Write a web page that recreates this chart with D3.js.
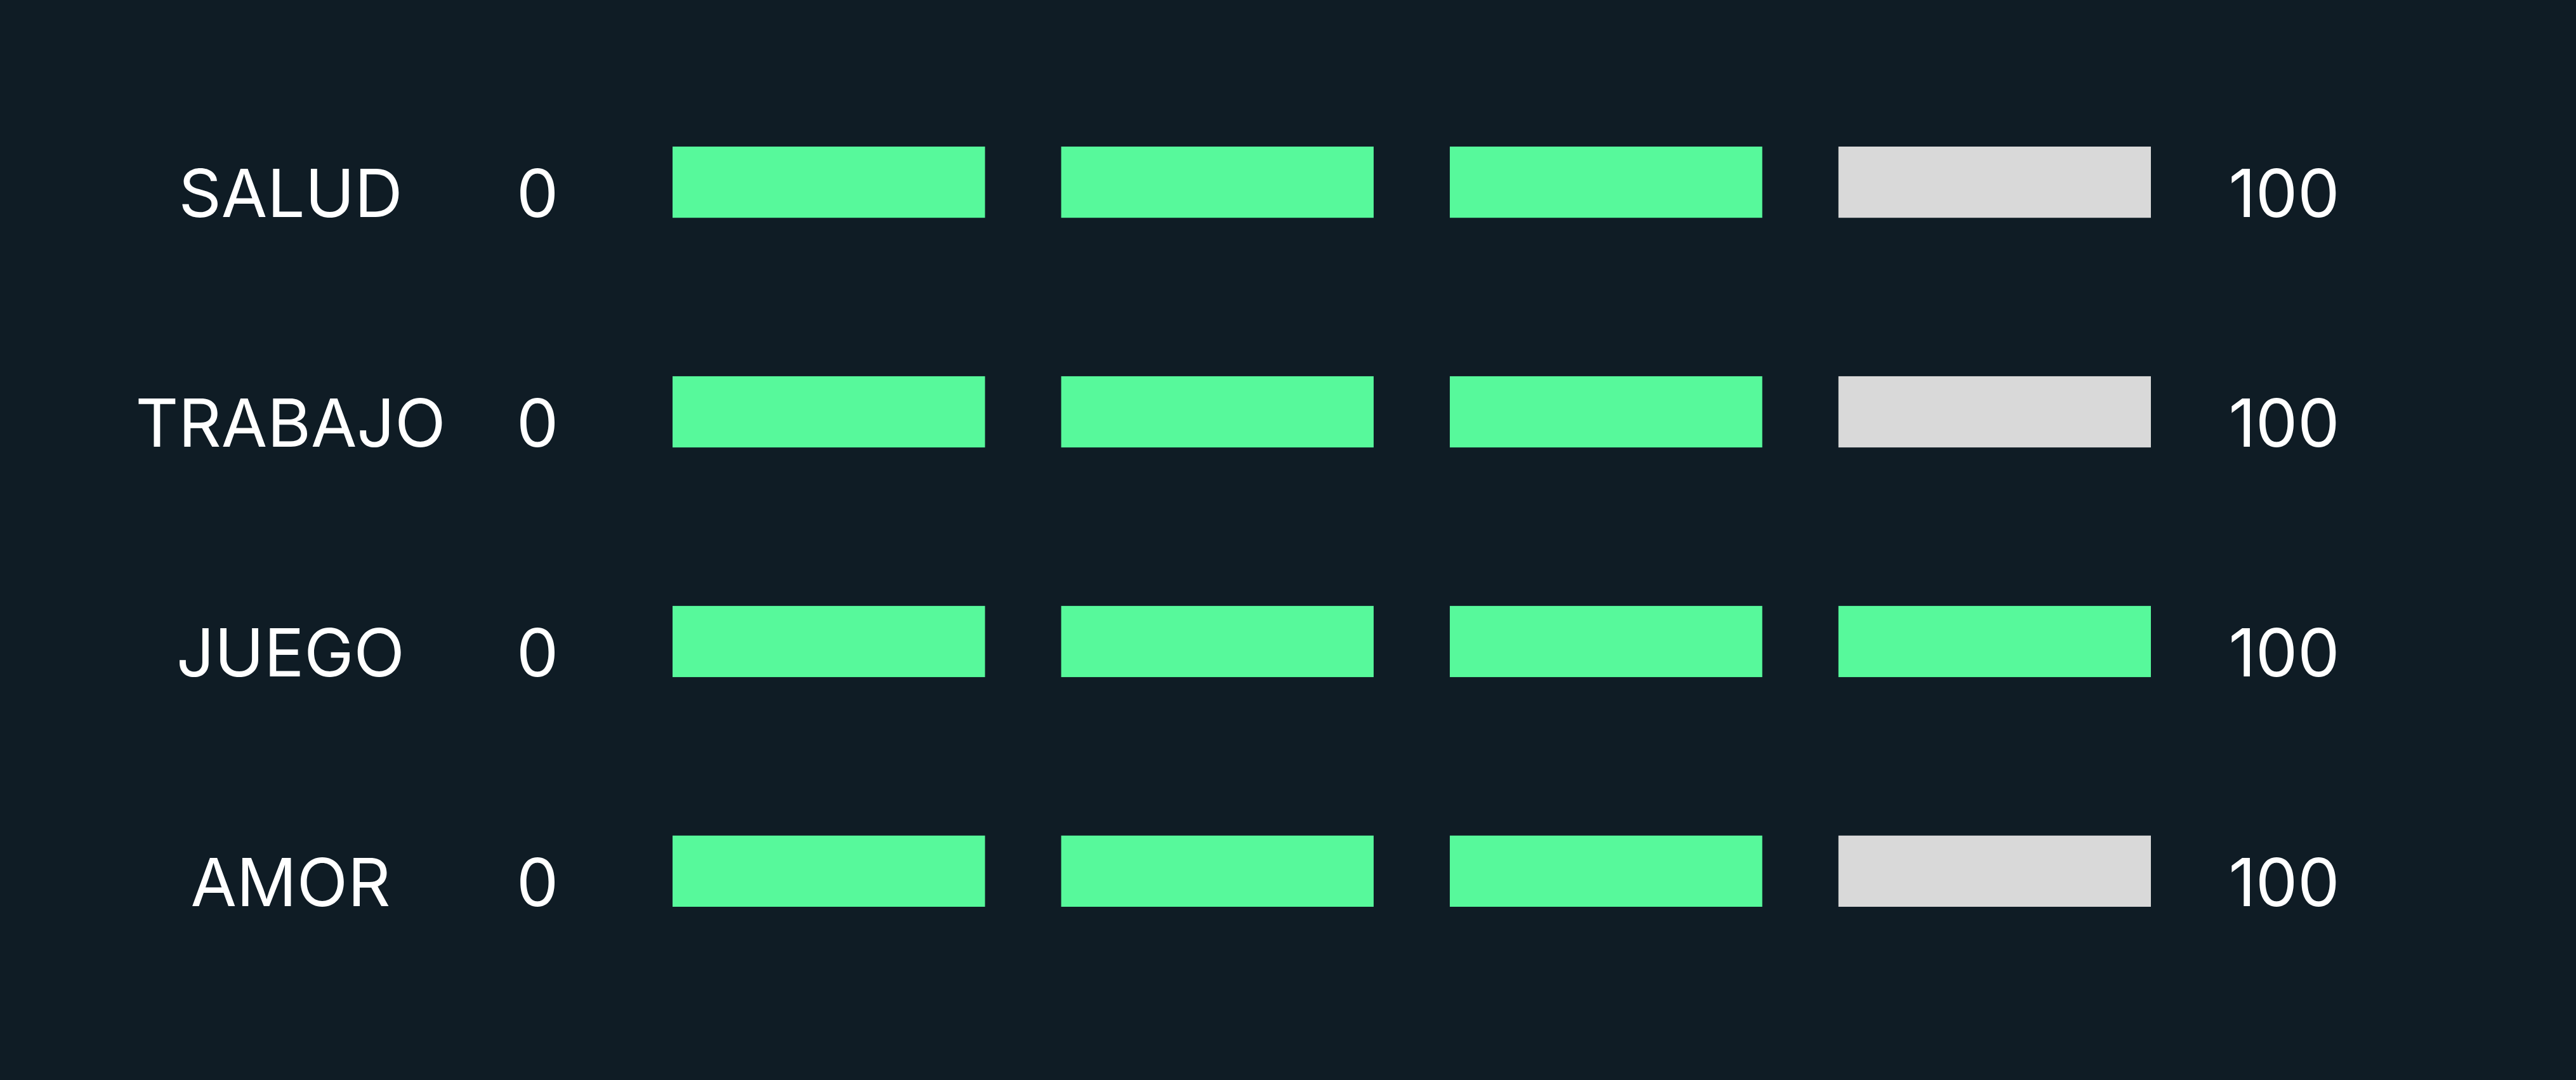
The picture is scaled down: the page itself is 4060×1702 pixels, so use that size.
<!DOCTYPE html>
<html lang="es">
<head>
<meta charset="utf-8">
<title>Barras segmentadas</title>
<script src="https://cdn.jsdelivr.net/npm/d3@7"></script>
<style>
  html, body { margin: 0; padding: 0; background: #0f1c25; }
  svg { display: block; }
</style>
</head>
<body>
<script>
// data
var categories = ["SALUD", "TRABAJO", "JUEGO", "AMOR"];
var values = [75, 75, 100, 75];       // score out of 100
var segments = [25, 50, 75, 100];     // each block covers 25 points
var minLabel = "0";
var maxLabel = "100";

var w = 4060, h = 1702;
var bg = "#0f1c25", onColor = "#57f99b", offColor = "#d9d9d9";

var svg = d3.select("body").append("svg")
  .attr("width", w)
  .attr("height", h);

svg.append("rect").attr("width", w).attr("height", h).attr("fill", bg);

// scales
var xScale = d3.scaleBand()
  .domain(segments)
  .range([1060, 3390])
  .paddingInner(0.196)
  .paddingOuter(0);

var yScale = d3.scaleBand()
  .domain(categories)
  .range([231, 1429])
  .paddingInner(0.69)
  .paddingOuter(0);

var rows = svg.selectAll("g.row")
  .data(categories.map(function(c, i) { return { cat: c, value: values[i] }; }))
  .enter()
  .append("g")
  .attr("class", "row")
  .attr("transform", function(d) { return "translate(0," + yScale(d.cat) + ")"; });

// blocks
rows.selectAll("rect")
  .data(function(d) { return segments.map(function(s) { return { seg: s, on: d.value >= s }; }); })
  .enter()
  .append("rect")
  .attr("x", function(d) { return xScale(d.seg); })
  .attr("y", 0)
  .attr("width", xScale.bandwidth())
  .attr("height", yScale.bandwidth())
  .attr("fill", function(d) { return d.on ? onColor : offColor; });

// labels sit on the bottom edge of the blocks
var textY = yScale.bandwidth() - 1;

function label(sel, x, txt) {
  sel.append("text")
    .attr("x", x)
    .attr("y", textY)
    .attr("text-anchor", "middle")
    .attr("font-family", "Inter, 'Noto Sans', sans-serif")
    .attr("font-size", "105px")
    .attr("fill", "#ffffff")
    .text(txt);
}

rows.each(function(d) {
  var g = d3.select(this);
  label(g, 458, d.cat);
  label(g, 847, minLabel);
  label(g, 3600, maxLabel);
});
</script>
</body>
</html>
